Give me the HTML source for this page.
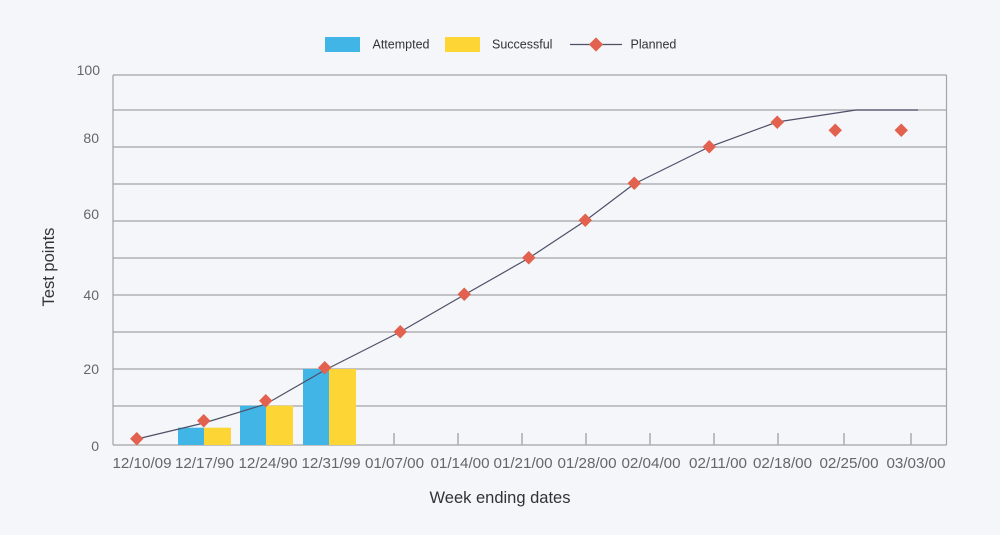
<!DOCTYPE html>
<html><head><meta charset="utf-8"><style>
html,body{margin:0;padding:0;background:#f4f6f9;}
svg{display:block;font-family:"Liberation Sans",sans-serif;}
</style></head><body>
<svg width="1000" height="535" viewBox="0 0 1000 535" xmlns="http://www.w3.org/2000/svg">
<rect width="1000" height="535" fill="#f4f6f9"/>
<!-- legend -->
<rect x="325" y="37" width="35" height="15" fill="#41b6e6"/>
<text x="372.5" y="48.5" font-size="12.5" fill="#333">Attempted</text>
<rect x="445" y="37" width="35" height="15" fill="#fdd535"/>
<text x="492" y="48.5" font-size="12.5" fill="#333">Successful</text>
<line x1="570" y1="44.5" x2="622" y2="44.5" stroke="#4d5066" stroke-width="1.2"/>
<rect x="591" y="39.5" width="10" height="10" fill="#e2624f" transform="rotate(45 596 44.5)"/>
<text x="630.5" y="48.5" font-size="12.5" fill="#333">Planned</text>
<!-- grid -->
<g stroke="#a3a3a8" stroke-width="1.2">
<line x1="113" y1="75" x2="946.5" y2="75"/>
<line x1="113" y1="110" x2="946.5" y2="110"/>
<line x1="113" y1="147" x2="946.5" y2="147"/>
<line x1="113" y1="184" x2="946.5" y2="184"/>
<line x1="113" y1="221" x2="946.5" y2="221"/>
<line x1="113" y1="258" x2="946.5" y2="258"/>
<line x1="113" y1="295" x2="946.5" y2="295"/>
<line x1="113" y1="332" x2="946.5" y2="332"/>
<line x1="113" y1="369" x2="946.5" y2="369"/>
<line x1="113" y1="406" x2="946.5" y2="406"/>
<line x1="113" y1="445" x2="946.5" y2="445"/>
<line x1="113" y1="75" x2="113" y2="445"/>
<line x1="946.5" y1="75" x2="946.5" y2="445"/>
</g>
<g stroke="#b0b0b4" stroke-width="1.6">
<line x1="394" y1="433" x2="394" y2="445"/>
<line x1="458" y1="433" x2="458" y2="445"/>
<line x1="522" y1="433" x2="522" y2="445"/>
<line x1="586" y1="433" x2="586" y2="445"/>
<line x1="650" y1="433" x2="650" y2="445"/>
<line x1="714" y1="433" x2="714" y2="445"/>
<line x1="778" y1="433" x2="778" y2="445"/>
<line x1="844" y1="433" x2="844" y2="445"/>
<line x1="911" y1="433" x2="911" y2="445"/>
</g>
<!-- bars -->
<rect x="178" y="427.7" width="26" height="17.3" fill="#41b6e6"/>
<rect x="204" y="427.7" width="27" height="17.3" fill="#fdd535"/>
<rect x="240" y="405.7" width="26" height="39.3" fill="#41b6e6"/>
<rect x="266" y="405.7" width="27" height="39.3" fill="#fdd535"/>
<rect x="303" y="369" width="26" height="76" fill="#41b6e6"/>
<rect x="329" y="369" width="27" height="76" fill="#fdd535"/>
<!-- line -->
<polyline fill="none" stroke="#4d5066" stroke-width="1.2" points="137,439 204,423 266,404 325,370 400,332 464,295 529,258 585,221 634,184 709,147 777,122 856,110 918,110"/>
<g fill="#e2624f">
<rect x="132" y="434" width="9.5" height="9.5" transform="rotate(45 136.75 438.75)"/>
<rect x="199" y="416" width="9.5" height="9.5" transform="rotate(45 203.75 420.75)"/>
<rect x="261" y="396" width="9.5" height="9.5" transform="rotate(45 265.75 400.75)"/>
<rect x="320" y="363" width="9.5" height="9.5" transform="rotate(45 324.75 367.75)"/>
<rect x="395.5" y="327" width="9.5" height="9.5" transform="rotate(45 400.25 331.75)"/>
<rect x="459.5" y="289.5" width="9.5" height="9.5" transform="rotate(45 464.25 294.25)"/>
<rect x="524" y="253" width="9.5" height="9.5" transform="rotate(45 528.75 257.75)"/>
<rect x="580.5" y="215.5" width="9.5" height="9.5" transform="rotate(45 585.25 220.25)"/>
<rect x="629.5" y="178.5" width="9.5" height="9.5" transform="rotate(45 634.25 183.25)"/>
<rect x="704.5" y="142" width="9.5" height="9.5" transform="rotate(45 709.25 146.75)"/>
<rect x="772.5" y="117.5" width="9.5" height="9.5" transform="rotate(45 777.25 122.25)"/>
<rect x="830.5" y="125.5" width="9.5" height="9.5" transform="rotate(45 835.25 130.25)"/>
<rect x="896.5" y="125.5" width="9.5" height="9.5" transform="rotate(45 901.25 130.25)"/>
</g>
<!-- y labels -->
<g font-size="14" fill="#666" text-anchor="end">
<text x="100" y="75">100</text>
<text x="99" y="143">80</text>
<text x="99" y="219">60</text>
<text x="99" y="300">40</text>
<text x="99" y="374">20</text>
<text x="99" y="451">0</text>
</g>
<!-- x labels -->
<g font-size="15.2" fill="#666" text-anchor="middle">
<text x="142" y="468">12/10/09</text>
<text x="204.5" y="468">12/17/90</text>
<text x="268" y="468">12/24/90</text>
<text x="331" y="468">12/31/99</text>
<text x="394.5" y="468">01/07/00</text>
<text x="460" y="468">01/14/00</text>
<text x="523" y="468">01/21/00</text>
<text x="587" y="468">01/28/00</text>
<text x="651" y="468">02/04/00</text>
<text x="718" y="468">02/11/00</text>
<text x="782.5" y="468">02/18/00</text>
<text x="849" y="468">02/25/00</text>
<text x="916" y="468">03/03/00</text>
</g>
<text x="500" y="503" font-size="16.5" fill="#333" text-anchor="middle">Week ending dates</text>
<text x="0" y="0" font-size="16.5" fill="#333" text-anchor="middle" transform="translate(54 267) rotate(-90)">Test points</text>
</svg>
</body></html>
